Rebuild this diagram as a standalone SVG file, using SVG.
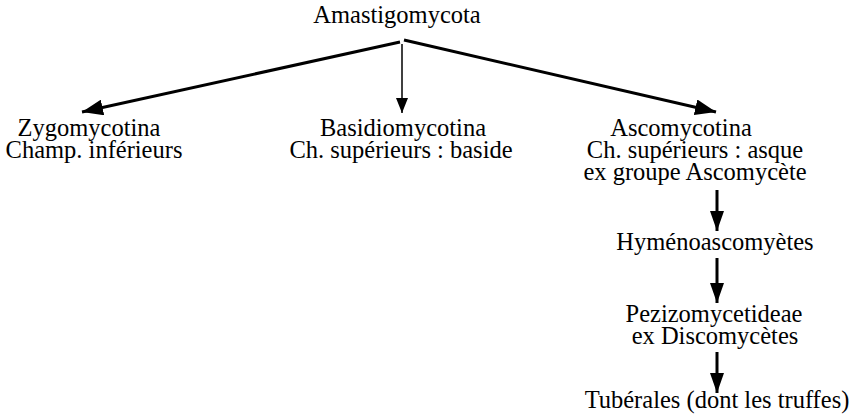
<svg xmlns="http://www.w3.org/2000/svg" width="864" height="416" viewBox="0 0 864 416">
<defs>
<marker id="ah" markerUnits="userSpaceOnUse" markerWidth="24" markerHeight="16" refX="21" refY="8" orient="auto">
<path d="M0,0 L21,8 L0,16 z" fill="#000"/>
</marker>
<marker id="av" markerUnits="userSpaceOnUse" markerWidth="22" markerHeight="14" refX="20" refY="7" orient="auto">
<path d="M0,0 L20,7 L0,14 z" fill="#000"/>
</marker>
<marker id="ahs" markerUnits="userSpaceOnUse" markerWidth="16" markerHeight="12" refX="15" refY="6" orient="auto">
<path d="M0,0 L15,6 L0,12 z" fill="#000"/>
</marker>
<style>
text{font-family:"Liberation Serif","Times New Roman",Tinos,serif;font-size:24.5px;fill:#000;text-anchor:middle}
.thick{stroke:#000;stroke-width:3;fill:none}
.thin{stroke:#000;stroke-width:1.5;fill:none}
</style>
</defs>
<rect width="864" height="416" fill="#fff"/>
<g id="connectors">
<line class="thick" x1="400" y1="42" x2="82" y2="112" marker-end="url(#ah)"/>
<line class="thin" x1="402" y1="44" x2="402" y2="113" marker-end="url(#ahs)"/>
<line class="thick" x1="404" y1="40" x2="716" y2="112" marker-end="url(#ah)"/>
<line class="thick" x1="717" y1="190" x2="717" y2="231" marker-end="url(#av)"/>
<line class="thick" x1="717" y1="258" x2="717" y2="303" marker-end="url(#av)"/>
<line class="thick" x1="717" y1="352" x2="717" y2="393" marker-end="url(#av)"/>
</g>
<g id="amastigomycota"><text x="397" y="23">Amastigomycota</text></g>
<g id="zygomycotina"><text x="89" y="136">Zygomycotina</text><text x="94" y="158">Champ. inférieurs</text></g>
<g id="basidiomycotina"><text x="403" y="136">Basidiomycotina</text><text x="401" y="158">Ch. supérieurs : baside</text></g>
<g id="ascomycotina"><text x="681" y="136">Ascomycotina</text><text x="695" y="158">Ch. supérieurs : asque</text><text x="695" y="180">ex groupe Ascomycète</text></g>
<g id="hymenoascomycetes"><text x="715" y="250">Hyménoascomyètes</text></g>
<g id="pezizomycetideae"><text x="714" y="322">Pezizomycetideae</text><text x="715" y="344">ex Discomycètes</text></g>
<g id="tuberales"><text x="717" y="408">Tubérales (dont les truffes)</text></g>
</svg>
